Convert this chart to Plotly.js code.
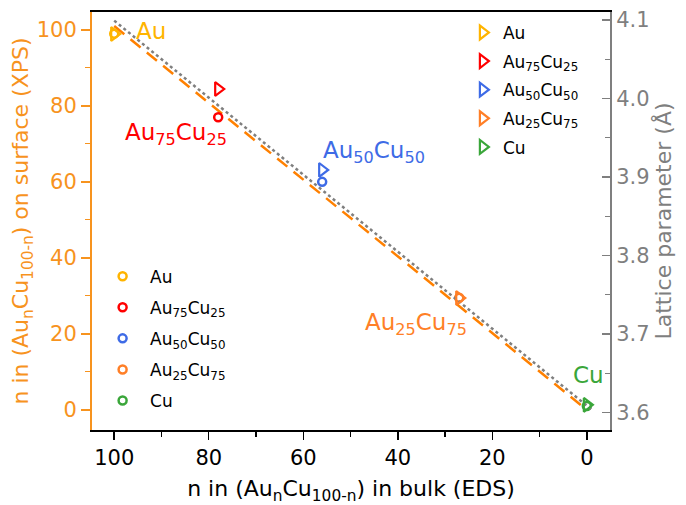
<!DOCTYPE html>
<html>
<head>
<meta charset="utf-8">
<script src="https://cdn.plot.ly/plotly-3.0.1.min.js"></script>
<style>html,body{margin:0;padding:0;background:#fff;}#chart{width:686px;height:505px;}</style>
</head>
<body>
<div id="chart"></div>
<script>
// ---- data ----
const labels = ["Au", "Au<sub>75</sub>Cu<sub>25</sub>", "Au<sub>50</sub>Cu<sub>50</sub>", "Au<sub>25</sub>Cu<sub>75</sub>", "Cu"];
const colors = ["#FFB400", "#FF0000", "#3E6BE6", "#FF7F27", "#3AA63A"];
const bulkN = [100, 78, 56, 27, 0];          // n in bulk (EDS)
const surfaceN = [99, 77, 60, 29.5, 1];      // n on surface (XPS)
const latticeA = [4.082, 4.012, 3.909, 3.746, 3.610]; // lattice parameter (Å)
const fitX = [100, 0];
const fitY = [101, 0];
const vegardX = [100, -1];
const vegardY = [4.099, 3.604];
const xTicks = [0, 20, 40, 60, 80, 100];
const yTicks = [0, 20, 40, 60, 80, 100];
const y2Ticks = [3.6, 3.7, 3.8, 3.9, 4.0, 4.1];

const ORANGE = "#F7931E";
const GRAY = "#7F7F7F";
const FONT = "DejaVu Sans, Arial, sans-serif";

const traces = [];
traces.push({x: fitX, y: fitY, mode: "lines", yaxis: "y", showlegend: false,
  line: {color: "#FF8000", width: 2.5, dash: "13px,8px"}, hoverinfo: "skip"});
traces.push({x: vegardX, y: vegardY, mode: "lines", yaxis: "y2", showlegend: false,
  line: {color: GRAY, width: 2.5, dash: "dot"}, hoverinfo: "skip"});

labels.forEach((name, i) => {
  traces.push({x: [bulkN[i]], y: [surfaceN[i]], name: name, mode: "markers", yaxis: "y",
    legend: "legend2", legendgroup: "c" + i,
    marker: {symbol: "circle-open", size: 8, color: colors[i], line: {width: 2.5, color: colors[i]}}});
});
labels.forEach((name, i) => {
  traces.push({x: [bulkN[i]], y: [latticeA[i]], name: name, mode: "markers", yaxis: "y2",
    legend: "legend", legendgroup: "t" + i,
    marker: {symbol: "triangle-right-open", size: 12, color: colors[i], line: {width: 2.2, color: colors[i]}}});
});

const annFont = (c) => ({family: FONT, size: 23, color: c});
const layout = {
  width: 686, height: 505,
  margin: {l: 92, r: 76, t: 12, b: 75},
  paper_bgcolor: "#ffffff", plot_bgcolor: "#ffffff",
  font: {family: FONT, size: 21, color: "#000"},
  showlegend: true,
  xaxis: {
    range: [104.7, -4.9], autorange: false,
    tickvals: xTicks, ticks: "outside", ticklen: 8, tickwidth: 1.5, tickcolor: "#000",
    minor: {dtick: 10, ticks: "outside", ticklen: 5, tickwidth: 1.2, tickcolor: "#000"},
    showline: true, linecolor: "#000", linewidth: 2, mirror: true,
    showgrid: false, zeroline: false,
    tickfont: {family: FONT, size: 21, color: "#000"},
    title: {text: "n in (Au<sub>n</sub>Cu<sub>100-n</sub>) in bulk (EDS)", font: {family: FONT, size: 22, color: "#000"}, standoff: 12}
  },
  yaxis: {
    range: [-5.3, 104.7], autorange: false,
    tickvals: yTicks, ticks: "outside", ticklen: 9, tickwidth: 1.5, tickcolor: ORANGE,
    minor: {dtick: 10, ticks: "outside", ticklen: 5, tickwidth: 1.2, tickcolor: ORANGE},
    showline: true, linecolor: ORANGE, linewidth: 2,
    showgrid: false, zeroline: false,
    tickfont: {family: FONT, size: 21, color: ORANGE},
    title: {text: "n in (Au<sub>n</sub>Cu<sub>100-n</sub>) on surface (XPS)", font: {family: FONT, size: 22, color: ORANGE}, standoff: 0}
  },
  yaxis2: {
    overlaying: "y", side: "right",
    range: [3.578, 4.110], autorange: false,
    tickvals: y2Ticks, tickformat: ".1f", ticks: "inside", ticklen: 8, tickwidth: 1.5, tickcolor: GRAY,
    minor: {dtick: 0.05, ticks: "inside", ticklen: 5, tickwidth: 1.2, tickcolor: GRAY},
    showline: true, linecolor: GRAY, linewidth: 2,
    showgrid: false, zeroline: false,
    tickfont: {family: FONT, size: 21, color: GRAY},
    title: {text: "Lattice parameter (Å)", font: {family: FONT, size: 22, color: GRAY}, standoff: 6}
  },
  legend: {
    x: 0.716, y: 0.993, xanchor: "left", yanchor: "top",
    bgcolor: "rgba(0,0,0,0)", borderwidth: 0, tracegroupgap: 3.5,
    font: {family: FONT, size: 17, color: "#000"}
  },
  legend2: {
    x: 0.006, y: 0.41, xanchor: "left", yanchor: "top", itemwidth: 45,
    bgcolor: "rgba(0,0,0,0)", borderwidth: 0, tracegroupgap: 6,
    font: {family: FONT, size: 17, color: "#000"}
  },
  annotations: [
    {x: 92.2, y: 99.7, xref: "x", yref: "y", text: "Au", showarrow: false, font: annFont(colors[0])},
    {x: 86.9, y: 72.6, xref: "x", yref: "y", text: "Au<sub>75</sub>Cu<sub>25</sub>", showarrow: false, font: annFont(colors[1])},
    {x: 45.0, y: 67.8, xref: "x", yref: "y", text: "Au<sub>50</sub>Cu<sub>50</sub>", showarrow: false, font: annFont(colors[2])},
    {x: 36.1, y: 22.6, xref: "x", yref: "y", text: "Au<sub>25</sub>Cu<sub>75</sub>", showarrow: false, font: annFont(colors[3])},
    {x: -0.3, y: 9.2, xref: "x", yref: "y", text: "Cu", showarrow: false, font: annFont(colors[4])}
  ]
};

Plotly.newPlot("chart", traces, layout, {displayModeBar: false, staticPlot: true});
</script>
</body>
</html>
